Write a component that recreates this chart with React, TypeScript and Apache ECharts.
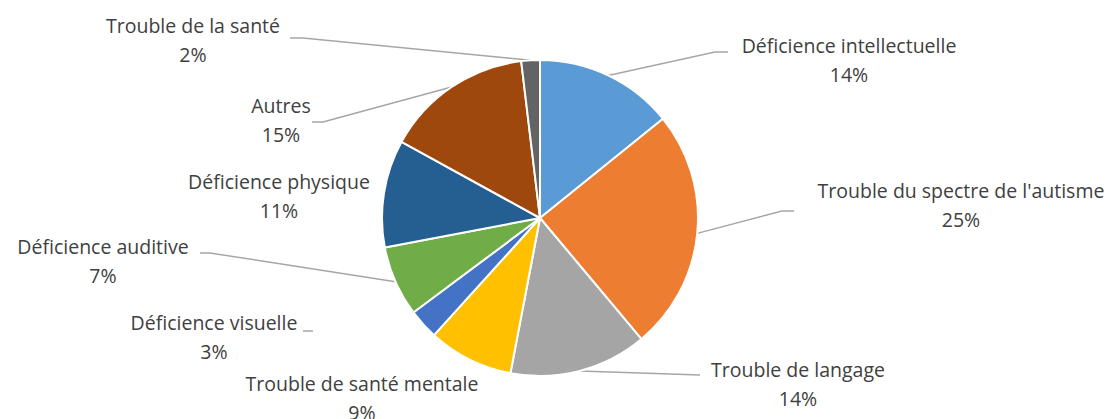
import React, { useEffect, useRef } from "react";
import * as echarts from "echarts";

const categories = [
  "Déficience intellectuelle",
  "Trouble du spectre de l'autisme",
  "Trouble de langage",
  "Trouble de santé mentale",
  "Déficience visuelle",
  "Déficience auditive",
  "Déficience physique",
  "Autres",
  "Trouble de la santé",
];
const values = [14.2, 24.7, 14.1, 8.7, 3.1, 7.2, 11.0, 15.1, 1.9];
const colors = ["#5B9BD5", "#ED7D31", "#A5A5A5", "#FFC000", "#4472C4", "#70AD47", "#255E91", "#9E480E", "#636363"];

// label placement (center of the two-line label) and leader-line elbows
const labelPos: [number, number][] = [
  [849, 60], [961, 205], [798, 384], [362, 398], [214, 337], [103, 261], [279, 196], [281, 120], [193, 40],
];
const elbows: (number[][] | null)[] = [
  [[715, 52], [728, 52]],
  [[782, 211], [794, 211]],
  [[700, 375]],
  null,
  [[303, 331], [313, 331]],
  [[210, 253], [200, 253]],
  null,
  [[323, 122], [312, 122]],
  [[303, 38], [290, 38]],
];

export default function App() {
  const ref = useRef<HTMLDivElement>(null);
  useEffect(() => {
    if (!ref.current) return;
    const chart = echarts.init(ref.current, null, { renderer: "svg" });
    chart.setOption({
      animation: false,
      backgroundColor: "#ffffff",
      series: [
        {
          type: "pie",
          center: [540, 218],
          radius: 158,
          startAngle: 90,
          clockwise: true,
          avoidLabelOverlap: false,
          itemStyle: { borderColor: "#ffffff", borderWidth: 2 },
          data: categories.map((c, i) => ({
            name: c,
            value: values[i],
            itemStyle: { color: colors[i] },
            labelLine: { show: elbows[i] !== null },
          })),
          label: {
            show: true,
            formatter: (p: any) => `${p.name}\n${Math.round(p.percent)}%`,
            fontFamily: "Open Sans",
            fontSize: 19.5,
            lineHeight: 29,
            color: "#404040",
            align: "center",
          },
          labelLine: {
            show: true,
            lineStyle: { color: "#A6A6A6", width: 1.5 },
          },
          labelLayout: (params: any) => {
            const i = params.dataIndex;
            const [x, y] = labelPos[i];
            const res: any = { x, y, align: "center", verticalAlign: "middle" };
            const e = elbows[i];
            if (e) {
              const start = params.labelLinePoints ? params.labelLinePoints[0] : e[0];
              if (i === 4) {
                res.labelLinePoints = [e[0], e[0], e[1]];
              } else {
                res.labelLinePoints = [start, ...e];
                if (res.labelLinePoints.length === 2) res.labelLinePoints.push(e[e.length - 1]);
              }
            }
            return res;
          },
        },
      ],
    });
    return () => chart.dispose();
  }, []);
  return (
    <div
      ref={ref}
      style={{ position: "fixed", left: 0, top: 0, width: 1117, height: 419, background: "#fff" }}
    />
  );
}
